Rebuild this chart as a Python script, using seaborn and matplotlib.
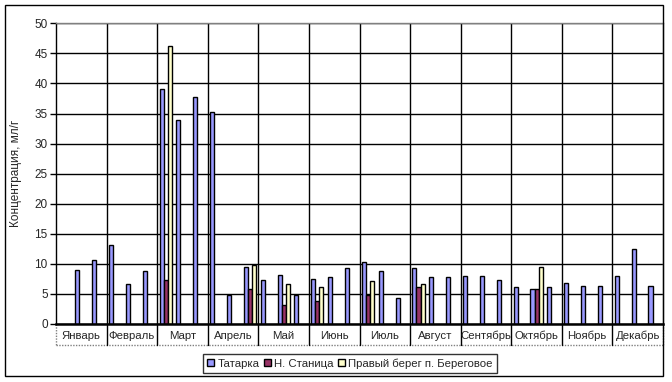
import numpy as np
import pandas as pd
import matplotlib
matplotlib.use("Agg")
import matplotlib.pyplot as plt
import seaborn as sns
from matplotlib.patches import Rectangle
from matplotlib.lines import Line2D

# --- Data (three sampling dates per month) ---
months = ["Январь", "Февраль", "Март", "Апрель", "Май", "Июнь",
          "Июль", "Август", "Сентябрь", "Октябрь", "Ноябрь", "Декабрь"]
series_names = ["Татарка", "Н. Станица", "Правый берег п. Береговое"]
nan = np.nan

tatarka = [nan, 9.0, 10.6,   13.1, 6.7, 8.8,   39.0, 34.0, 37.7,   35.3, 4.8, 9.4,
           7.3, 8.1, 4.9,    7.5, 7.8, 9.3,    10.3, 8.8, 4.4,     9.3, 7.8, 7.8,
           7.9, 7.9, 7.3,    6.1, 5.8, 6.1,    6.8, 6.3, 6.3,      7.9, 12.4, 6.3]
n_stanitsa = [nan, nan, nan,  nan, nan, nan,   7.3, nan, nan,      nan, nan, 5.8,
              nan, 3.1, nan,  3.8, nan, nan,   4.9, nan, nan,      6.2, nan, nan,
              nan, nan, nan,  nan, 5.8, nan,   nan, nan, nan,      nan, nan, nan]
bereg = [nan, nan, nan,  nan, nan, nan,   46.3, nan, nan,   nan, nan, 9.8,
         nan, 6.6, nan,  6.1, nan, nan,   7.2, nan, nan,    6.6, nan, nan,
         nan, nan, nan,  nan, 9.4, nan,   nan, nan, nan,    nan, nan, nan]

colors = ["#9999FF", "#993366", "#FFFFCC"]

n_slots = len(tatarka)
slots = list(range(n_slots))
df = pd.DataFrame({
    "slot": slots * 3,
    "series": [series_names[0]] * n_slots + [series_names[1]] * n_slots + [series_names[2]] * n_slots,
    "value": tatarka + n_stanitsa + bereg,
})

# --- Style ---
sns.set_style("white")
plt.rcParams["font.family"] = ["Liberation Sans", "DejaVu Sans"]
plt.rcParams["font.size"] = 8.5

fig = plt.figure(figsize=(6.72, 3.82), dpi=100)
ax = fig.add_axes([56 / 672, 58 / 382, 607 / 672, 300.7 / 382])

sns.barplot(data=df, x="slot", y="value", hue="series", order=slots,
            hue_order=series_names, palette=colors, width=0.72, gap=0,
            edgecolor="black", linewidth=1, errorbar=None, saturation=1,
            ax=ax)

handles, labels = ax.get_legend_handles_labels()
if ax.get_legend() is not None:
    ax.get_legend().remove()

# axes limits / y ticks
ax.set_xlim(-0.5, n_slots - 0.5)
ax.set_ylim(0, 50)
ax.set_yticks(range(0, 51, 5))
ax.set_xticks([])
ax.set_xlabel("")
ax.set_ylabel("Концентрация, мл/г", fontsize=8.5, labelpad=9)
ax.tick_params(axis="y", direction="out", length=4, width=1, color="black",
               left=True, labelsize=8.5, pad=2)

# gridlines
ax.set_axisbelow(True)
ax.yaxis.grid(True, color="black", linewidth=1)
for b in np.arange(2.5, n_slots - 1, 3):
    ax.axvline(b, color="black", linewidth=1, zorder=0.5)

for side in ["top", "right"]:
    ax.spines[side].set_color("gray")
    ax.spines[side].set_linestyle((0, (1, 1)))
    ax.spines[side].set_linewidth(1)
ax.spines["left"].set_color("black")
ax.spines["left"].set_linewidth(1)
ax.spines["bottom"].set_color("black")
ax.spines["bottom"].set_linewidth(1.8)

# --- Month label row below the axis ---
row_h = 0.07
trans = ax.get_xaxis_transform()
ax.add_line(Line2D([-0.5, n_slots - 0.5], [-row_h, -row_h], transform=trans,
                   color="gray", linestyle=(0, (1, 1)), linewidth=1, clip_on=False))
for k in range(len(months) + 1):
    xb = -0.5 + 3 * k
    edge = k in (0, len(months))
    ax.add_line(Line2D([xb, xb], [0, -row_h], transform=trans,
                       color="gray" if edge else "black",
                       linestyle=(0, (1, 1)) if edge else "-",
                       linewidth=1, clip_on=False))
for i, m in enumerate(months):
    ax.text(3 * i + 1, -row_h * 0.57, m, transform=trans, ha="center", va="center",
            fontsize=8.2, clip_on=False)

# --- Legend ---
leg = fig.legend(handles, labels, loc="center", bbox_to_anchor=(350 / 672, 18.5 / 382),
                 ncol=3, frameon=True, fancybox=False, fontsize=8.2,
                 handlelength=0.6, handleheight=0.6, handletextpad=0.3,
                 columnspacing=0.4, borderpad=0.4, borderaxespad=0)
leg.get_frame().set_edgecolor("black")
leg.get_frame().set_linewidth(1)

# --- Outer chart border ---
fig.add_artist(Rectangle((5 / 672, 6 / 382), 658 / 672, 371 / 382,
                         transform=fig.transFigure, fill=False,
                         edgecolor="black", linewidth=1))

fig.savefig("out.png", dpi=100)
